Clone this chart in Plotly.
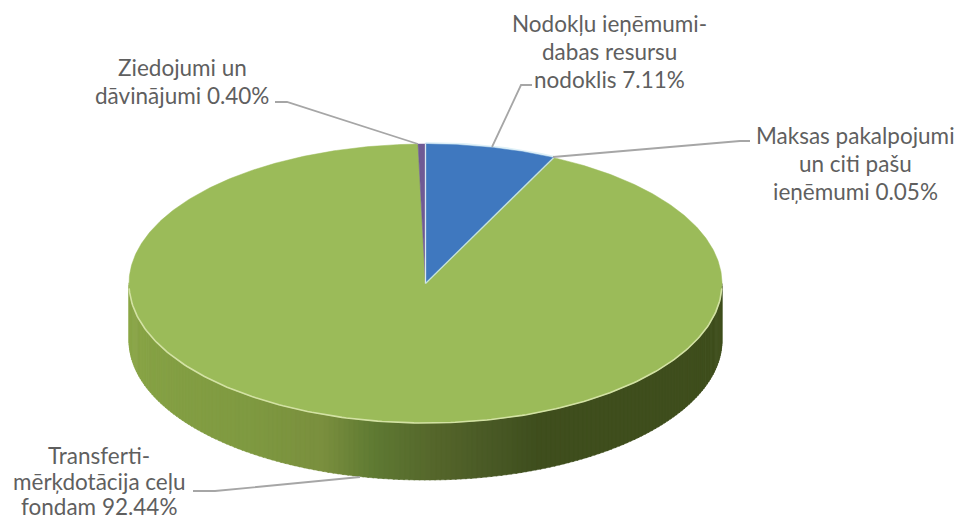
import numpy as np
import plotly.graph_objects as go

# Data
labels = ["Nodokļu ieņēmumi-dabas resursu nodoklis", "Maksas pakalpojumi un citi pašu ieņēmumi",
          "Transferti-mērķdotācija ceļu fondam", "Ziedojumi un dāvinājumi"]
values = [7.11, 0.05, 92.44, 0.40]
colors = ["#3f78bf", "#a04a46", "#9bbb59", "#6f5a94"]

label_lines = [
    ["Nodokļu ieņēmumi-", "dabas resursu", "nodoklis 7.11%"],
    ["Maksas pakalpojumi", "un citi pašu", "ieņēmumi 0.05%"],
    ["Transferti-", "mērķdotācija ceļu", "fondam 92.44%"],
    ["Ziedojumi un", "dāvinājumi 0.40%"],
]
label_centers = [(609, 51), (855, 163), (99, 481), (182, 81)]
label_gaps = [28, 28, 25.5, 28]
leaders = [
    [(492, 147), (521, 85), (532, 85)],
    [(553, 157), (740, 141), (750, 141)],
    [(360, 477), (215, 491), (193, 491)],
    [(418, 144), (287, 102), (275, 102)],
]

# Geometry of the tilted disc
cx, cy, rx, ry, depth = 425.5, 283.5, 296.5, 139.5, 57

wall_stops = [(90, "#8ba748"), (144, "#7f9a41"), (160, "#7a8f3e"), (170, "#5f7a33"),
              (182, "#55662b"), (192, "#4a5a26"), (202, "#3f4f1e"), (270, "#3f4e1d")]


def hexrgb(h):
    return np.array([int(h[i:i + 2], 16) for i in (1, 3, 5)], float)


def wall_color(deg):
    pos = 360 - deg  # runs 90 at the left end to 270 at the right end
    xs = [s[0] for s in wall_stops]
    c = [np.interp(pos, xs, [hexrgb(s[1])[i] for s in wall_stops]) for i in range(3)]
    return "rgb(%d,%d,%d)" % tuple(c)


def pt(deg, dy=0.0):
    t = np.radians(deg)
    return cx + rx * np.sin(t), cy - ry * np.cos(t) + dy


fig = go.Figure()

# Side wall, split in short strips so it can shade across the front
edges = np.linspace(90, 270, 181)
for a0, a1 in zip(edges[:-1], edges[1:]):
    arc = np.linspace(a0, a1 + 0.3, 4)
    xt, yt = pt(arc)
    xb, yb = pt(arc[::-1], depth)
    col = wall_color((a0 + a1) / 2)
    fig.add_trace(go.Scatter(x=np.r_[xt, xb, xt[0]], y=np.r_[yt, yb, yt[0]], mode="lines", fill="toself",
                             fillcolor=col, line=dict(color=col, width=0.5), hoverinfo="skip", showlegend=False))

# Soft pale halo along the blue slice's outer edge
blue_end = values[0] / sum(values) * 360
x, y = pt(np.linspace(0, blue_end, 30))
fig.add_trace(go.Scatter(x=x, y=y, mode="lines", line=dict(color="#dff1f8", width=4),
                         hoverinfo="skip", showlegend=False))

# Top face slices, drawn from the values
start = 0.0
for name, val, col in zip(labels, values, colors):
    sweep = val / sum(values) * 360
    arc = np.linspace(start, start + sweep, max(3, int(sweep * 2)))
    x, y = pt(arc)
    fig.add_trace(go.Scatter(x=np.r_[cx, x, cx], y=np.r_[cy, y, cy], mode="lines", fill="toself", fillcolor=col,
                             line=dict(color=col, width=0.5), name=name, hoverinfo="name", showlegend=False))
    start += sweep

# Pale separators and rim
for deg, c in [(0, "#dbe8f0"), (blue_end, "#c4e4dc")]:
    x, y = pt(deg)
    fig.add_trace(go.Scatter(x=[cx, x], y=[cy, y], mode="lines", line=dict(color=c, width=1.3),
                             hoverinfo="skip", showlegend=False))
rim = np.linspace(92, 268, 200)
x, y = pt(rim)
fig.add_trace(go.Scatter(x=x, y=y, mode="lines", line=dict(color="#d3e2a4", width=1.6),
                         hoverinfo="skip", showlegend=False))

# Leader lines
for lead in leaders:
    fig.add_trace(go.Scatter(x=[p[0] for p in lead], y=[p[1] for p in lead], mode="lines",
                             line=dict(color="#a6a6a6", width=1.8), hoverinfo="skip", showlegend=False))

# Text labels
for lines, (lx, ly), gap in zip(label_lines, label_centers, label_gaps):
    for i, line in enumerate(lines):
        fig.add_annotation(x=lx, y=ly + (i - (len(lines) - 1) / 2) * gap, text=line, showarrow=False,
                           xanchor="center", yanchor="middle",
                           font=dict(family="Lato, Carlito, sans-serif", size=22.5, color="#5f5f5f"))

# The page sets the plot 8 px in from its corner, so the axes start at 8
fig.update_layout(width=954, height=513, margin=dict(l=0, r=0, t=0, b=0), paper_bgcolor="white",
                  plot_bgcolor="white", showlegend=False,
                  xaxis=dict(range=[8, 962], visible=False, fixedrange=True),
                  yaxis=dict(range=[521, 8], visible=False, fixedrange=True))
fig.write_html("out.html", config={"displayModeBar": False})
